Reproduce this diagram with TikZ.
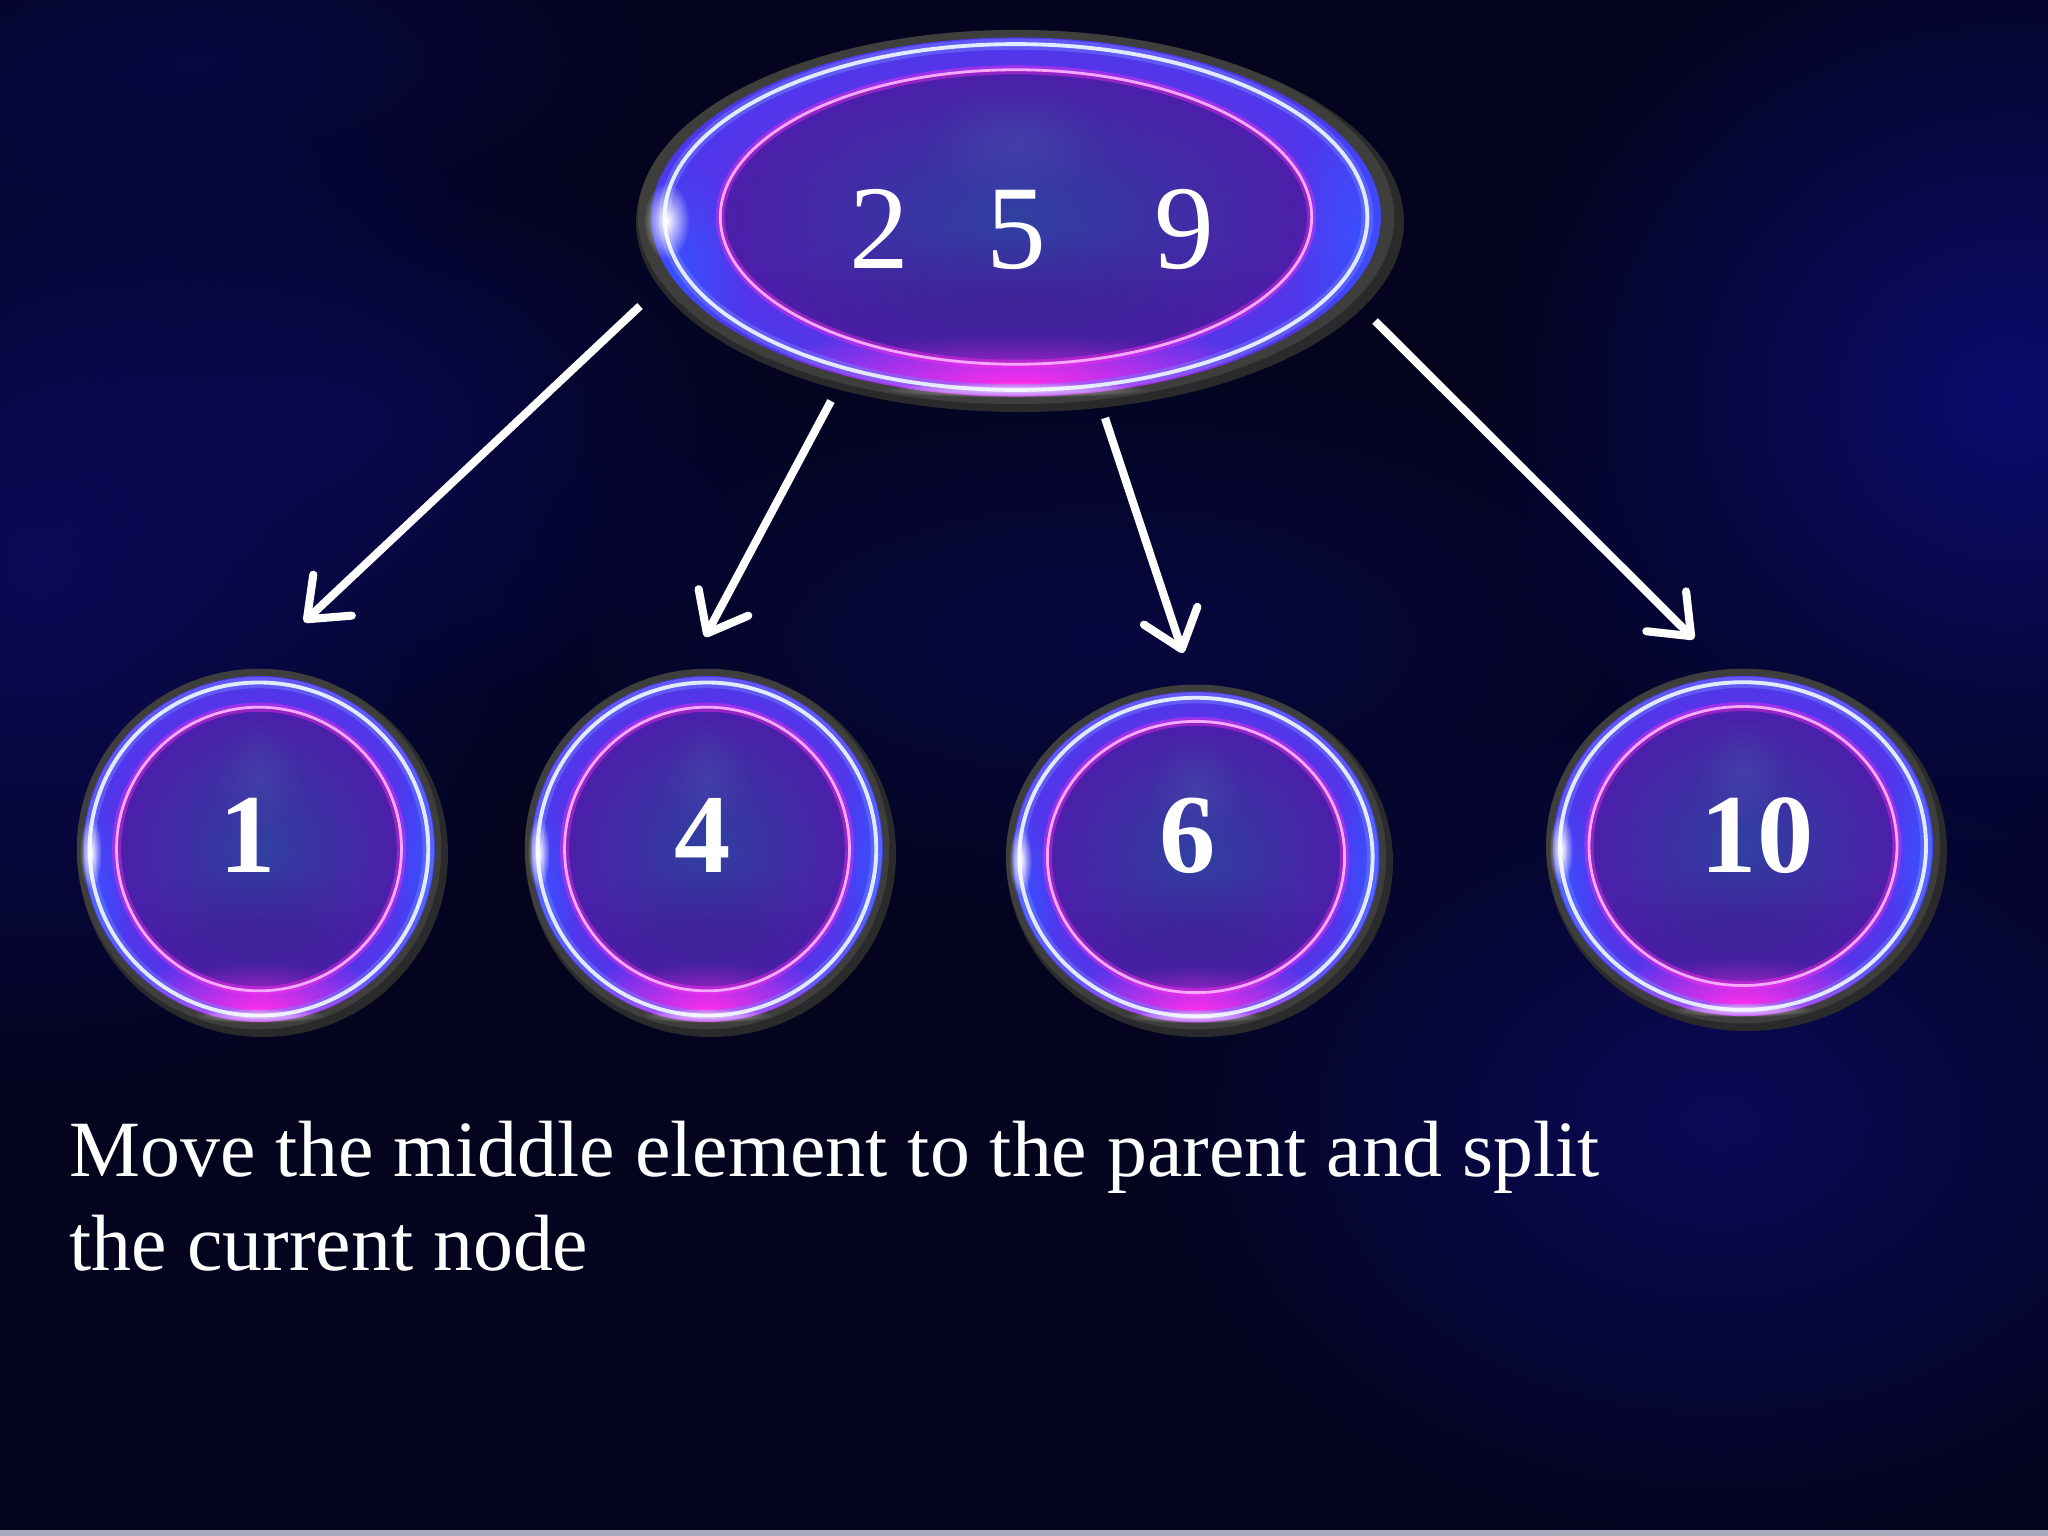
\documentclass[tikz,border=0pt]{standalone}
\usepackage{fontspec}
\setmainfont{Liberation Serif}
\usetikzlibrary{arrows.meta,fadings}

\definecolor{bgbase}{HTML}{04041E}
\definecolor{bgblue}{HTML}{0C0C6E}
\definecolor{bgblue2}{HTML}{0A0A58}
\definecolor{botline}{HTML}{A8A8BC}
\definecolor{orbshadow}{HTML}{2A2A2C}
\definecolor{orbgray}{HTML}{3E3E3C}
\definecolor{orbband}{HTML}{4A38EC}
\definecolor{orbmag}{HTML}{FF2EEA}
\definecolor{orbblue}{HTML}{3A50FF}
\definecolor{orbmid}{HTML}{7A2EE6}
\definecolor{orbin}{HTML}{3040A0}
\definecolor{orbinedge}{HTML}{4C1EAA}
\definecolor{ringlight}{HTML}{E2EAFF}
\definecolor{ringpink}{HTML}{F6A8FF}

\tikzfading[name=glowfade, inner color=transparent!0, outer color=transparent!100]

\tikzset{
  ringglow/.style={draw=orbblue!70!white, line width=3.2pt, draw opacity=0.45},
  ringline/.style={draw=ringlight, line width=1.1pt},
  pinkglow/.style={draw=orbmag, line width=2.6pt, draw opacity=0.4},
  pinkline/.style={draw=ringpink, line width=0.8pt},
  toptext/.style={text=white, inner sep=0pt, font=\fontsize{34pt}{40pt}\selectfont},
  numtext/.style={text=white, inner sep=0pt, font=\fontsize{32pt}{38pt}\selectfont\bfseries},
  captext/.style={text=white, inner sep=0pt, font=\fontsize{22.7pt}{27pt}\selectfont},
  conn/.style={draw=white, line width=2.3pt,
    -{Straight Barb[length=10pt, width=16pt, round]}}
}

\newcommand\orbdraw[4]{%
  \fill[orbshadow] (#1+4,#2+5) ellipse [x radius=#3, y radius=#4];
  \fill[orbgray] (#1,#2) ellipse [x radius=#3*0.985, y radius=#4*0.985];
  \fill[orbband] (#1,#2) ellipse [x radius=#3*0.95, y radius=#4*0.945];
  \begin{scope}
    \clip (#1,#2) ellipse [x radius=#3*0.95, y radius=#4*0.945];
    \fill[orbmid, path fading=glowfade] (#1,#2) ellipse [x radius=#3*1.02, y radius=#4*1.05];
    \fill[orbmag, path fading=glowfade] (#1,#2+#4*0.88) ellipse [x radius=#3*0.75, y radius=#4*0.32];
    \fill[orbblue, path fading=glowfade] (#1+#3*0.9,#2+#4*0.1) ellipse [x radius=#3*0.2, y radius=#4*0.8];
    \fill[orbblue, path fading=glowfade] (#1-#3*0.88,#2+#4*0.3) ellipse [x radius=#3*0.18, y radius=#4*0.6];
  \end{scope}
  \draw[ringglow] (#1,#2) ellipse [x radius=#3*0.915, y radius=#4*0.91];
  \draw[ringline] (#1,#2) ellipse [x radius=#3*0.915, y radius=#4*0.91];
  \shade[inner color=orbin, outer color=orbinedge] (#1,#2) ellipse [x radius=#3*0.77, y radius=#4*0.775];
  \begin{scope}
    \clip (#1,#2) ellipse [x radius=#3*0.77, y radius=#4*0.775];
    \fill[orbinedge!80!black, path fading=glowfade, opacity=0.5] (#1,#2+#4*0.45) ellipse [x radius=#3*0.7, y radius=#4*0.35];
    \fill[orbmag, path fading=glowfade, opacity=0.45] (#1,#2+#4*0.8) ellipse [x radius=#3*0.55, y radius=#4*0.18];
    \fill[orbin!85!white, path fading=glowfade, opacity=0.35] (#1,#2-#4*0.4) ellipse [x radius=#3*0.25, y radius=#4*0.3];
  \end{scope}
  \draw[pinkglow] (#1,#2) ellipse [x radius=#3*0.77, y radius=#4*0.775];
  \draw[pinkline] (#1,#2) ellipse [x radius=#3*0.77, y radius=#4*0.775];
  \fill[white, path fading=glowfade] (#1-#3*0.91,#2+#4*0.02) ellipse [x radius=#3*0.06, y radius=#4*0.2];
  \fill[white, path fading=glowfade, opacity=0.7] (#1,#2+#4*0.91) ellipse [x radius=#3*0.35, y radius=#4*0.04];
}

\begin{document}
\begin{tikzpicture}[x=0.01cm, y=-0.01cm]
\useasboundingbox (0,0) rectangle (2048,1536);
% background
\fill[bgbase] (0,0) rectangle (2048,1536);
\fill[bgblue2, path fading=glowfade] (40,560) ellipse [x radius=560, y radius=560];
\fill[bgblue2, path fading=glowfade, opacity=0.7] (350,420) ellipse [x radius=450, y radius=300];
\fill[bgblue, path fading=glowfade] (2010,400) ellipse [x radius=540, y radius=500];
\fill[bgblue2, path fading=glowfade] (1720,1120) ellipse [x radius=600, y radius=440];
\fill[bgblue2, path fading=glowfade, opacity=0.6] (200,60) ellipse [x radius=500, y radius=200];
\fill[bgblue2, path fading=glowfade, opacity=0.6] (1100,640) ellipse [x radius=700, y radius=300];
\fill[botline] (0,1530) rectangle (2048,1536);

% orbs
\orbdraw{1016}{217}{384}{190}
\orbdraw{259}{849}{185}{183}
\orbdraw{707}{849}{185}{183}
\orbdraw{1196}{857}{193}{175}
\orbdraw{1743}{846}{200}{180}

% text nodes
\node[toptext, anchor=base] (p) at (1032,268) {2\hspace{22pt}5\hspace{31pt}9};
\node[numtext, anchor=base] (c1) at (248,872) {1};
\node[numtext, anchor=base] (c2) at (703,872) {4};
\node[numtext, anchor=base] (c3) at (1188,872) {6};
\node[numtext, anchor=base] (c4) at (1757,872) {10};

% connectors
\coordinate (a1s) at (640,306);  \coordinate (a1e) at (304,622);
\coordinate (a2s) at (831,401);  \coordinate (a2e) at (705,637);
\coordinate (a3s) at (1105,418); \coordinate (a3e) at (1183,653);
\coordinate (a4s) at (1375,321); \coordinate (a4e) at (1694,639);
\draw[conn] (a1s) -- (a1e);
\draw[conn] (a2s) -- (a2e);
\draw[conn] (a3s) -- (a3e);
\draw[conn] (a4s) -- (a4e);

% caption
\node[captext, anchor=base west] (cap1) at (69,1176) {Move the middle element to the parent and split};
\node[captext, anchor=base west] (cap2) at (69,1270) {the current node};
\end{tikzpicture}
\end{document}
